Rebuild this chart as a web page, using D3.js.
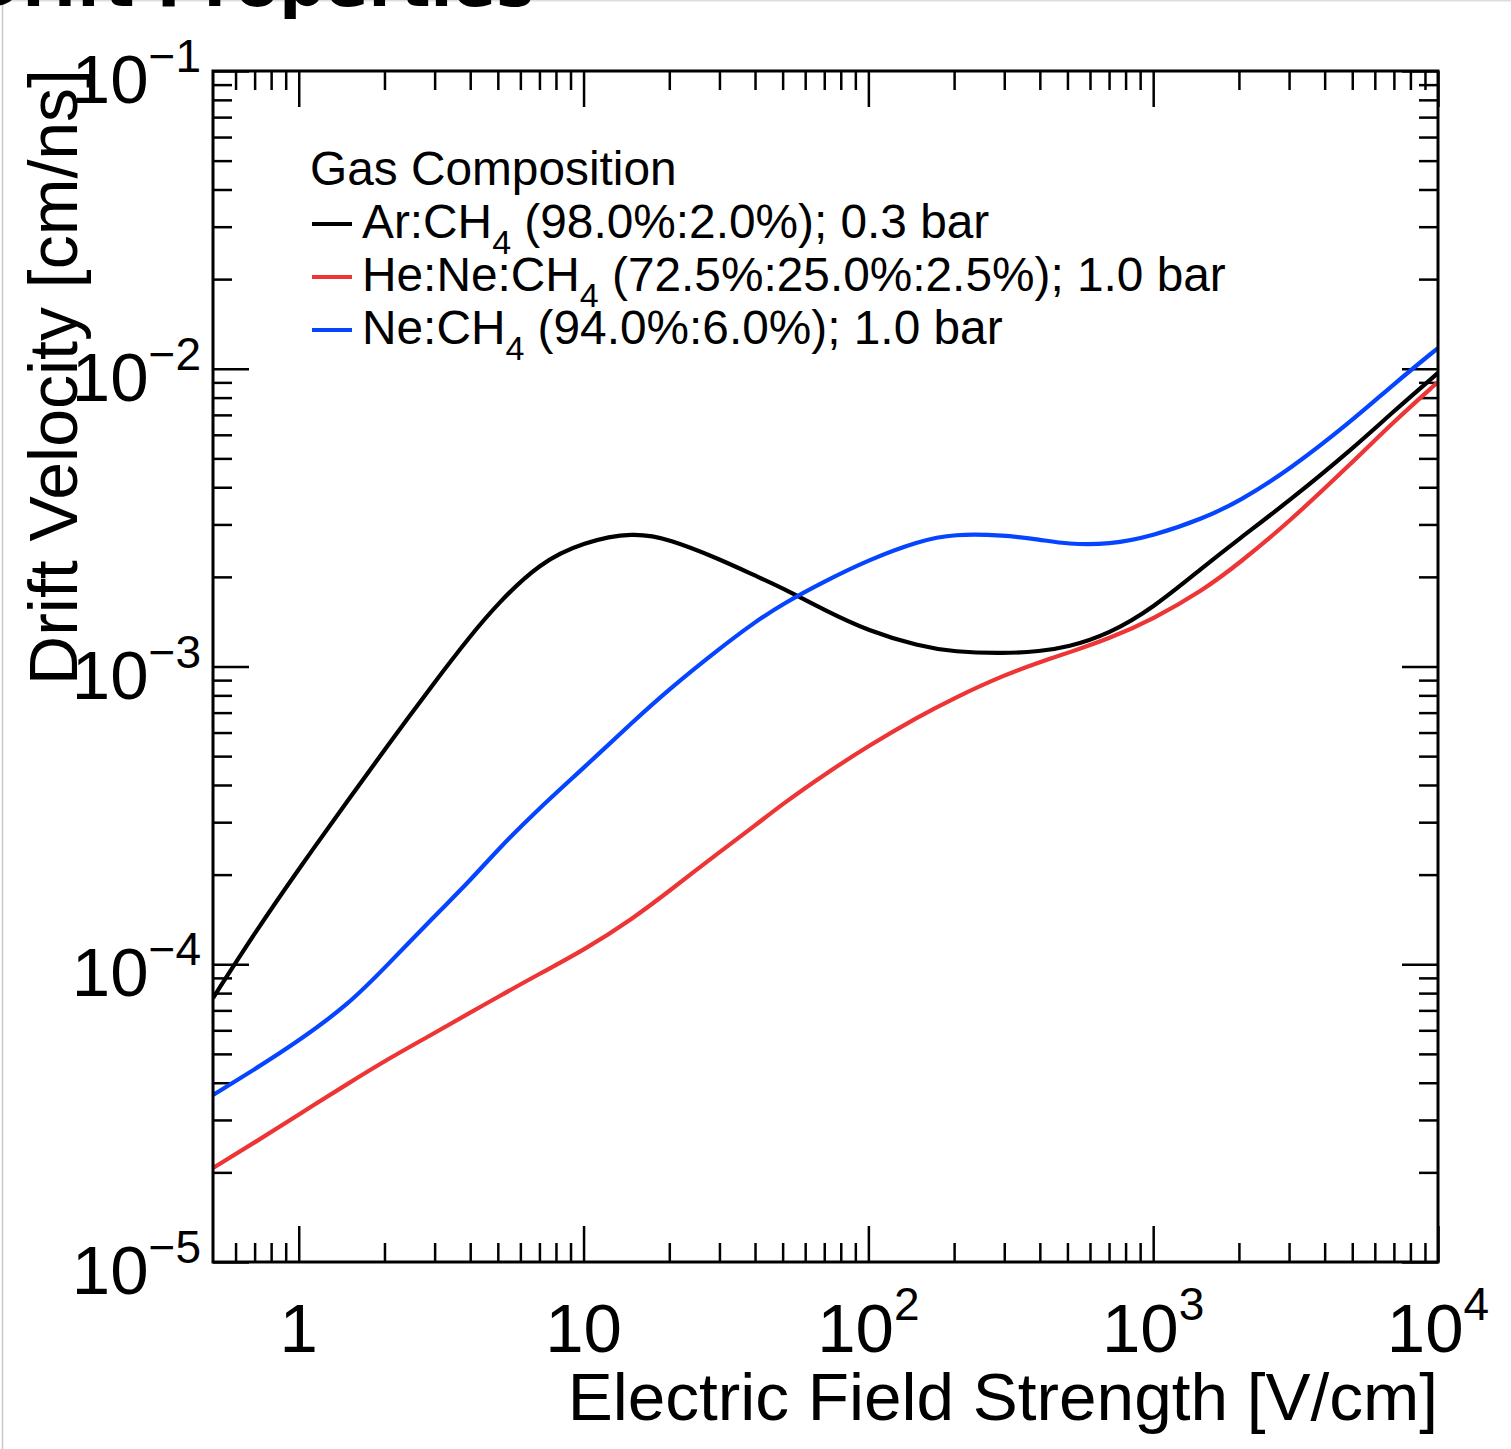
<!DOCTYPE html>
<html><head><meta charset="utf-8">
<script src="https://cdn.jsdelivr.net/npm/d3@7"></script>
<style>body{margin:0;background:#fff} svg{display:block}</style>
</head><body>
<svg id="c" width="1511" height="1449"></svg>
<script>
// ---- data ----
const fieldValues = [0.5, 0.7, 1, 1.5, 2, 3, 4, 5, 7, 10, 15, 20, 30, 40, 50, 70, 100, 150, 200, 300, 400, 500, 700, 1000, 1500, 2000, 3000, 5000, 7000, 10000];
const arCH4 = [7.70e-5, 1.273e-4, 2.089e-4, 3.589e-4, 5.243e-4, 8.87e-4, 1.266e-3, 1.628e-3, 2.227e-3, 2.62e-3, 2.825e-3, 2.68e-3, 2.296e-3, 2.020e-3, 1.835e-3, 1.548e-3, 1.316e-3, 1.172e-3, 1.119e-3, 1.105e-3, 1.125e-3, 1.160e-3, 1.286e-3, 1.572e-3, 2.159e-3, 2.68e-3, 3.596e-3, 5.376e-3, 7.21e-3, 9.68e-3];
const heNeCH4 = [2.068e-5, 2.519e-5, 3.128e-5, 3.99e-5, 4.733e-5, 5.877e-5, 6.88e-5, 7.76e-5, 9.29e-5, 1.113e-4, 1.43e-4, 1.762e-4, 2.382e-4, 2.921e-4, 3.457e-4, 4.337e-4, 5.41e-4, 6.786e-4, 7.836e-4, 9.366e-4, 1.035e-3, 1.110e-3, 1.240e-3, 1.443e-3, 1.806e-3, 2.218e-3, 3.058e-3, 4.844e-3, 6.65e-3, 9.03e-3];
const neCH4 = [3.638e-5, 4.435e-5, 5.525e-5, 7.354e-5, 9.71e-5, 1.453e-4, 1.91e-4, 2.43e-4, 3.347e-4, 4.56e-4, 6.56e-4, 8.40e-4, 1.149e-3, 1.411e-3, 1.622e-3, 1.930e-3, 2.279e-3, 2.639e-3, 2.79e-3, 2.76e-3, 2.670e-3, 2.575e-3, 2.565e-3, 2.744e-3, 3.142e-3, 3.582e-3, 4.570e-3, 6.70e-3, 8.89e-3, 1.174e-2];

const seriesGas = ["Ar:CH", "He:Ne:CH", "Ne:CH"];
const seriesMix = [" (98.0%:2.0%); 0.3 bar", " (72.5%:25.0%:2.5%); 1.0 bar", " (94.0%:6.0%); 1.0 bar"];
const seriesColors = ["#000000", "#ee3535", "#0645ff"];
const legendTitle = "Gas Composition";

const xMajorTicks = [1, 10, 100, 1000, 10000];
const xTickBase = ["1", "10", "10", "10", "10"];
const xTickExp = ["", "", "2", "3", "4"];
const yMajorTicks = [1e-5, 1e-4, 1e-3, 1e-2, 1e-1];
const yTickBase = ["10", "10", "10", "10", "10"];
const yTickExp = ["\u22125", "\u22124", "\u22123", "\u22122", "\u22121"];

const xTitle = "Electric Field Strength [V/cm]";
const yTitle = "Drift Velocity [cm/ns]";
const chartTitle = "Drift Properties";

// ---- layout ----
const W = 1511, H = 1449;
const L = 213, R = 1438, T = 71, B = 1262;
const FONT = "'Liberation Sans', Arial, Helvetica, sans-serif";
const MAJ = 36, MIN = 19;

const x = d3.scaleLog().domain([0.5, 1e4]).range([L, R]);
const y = d3.scaleLog().domain([1e-5, 1e-1]).range([B, T]);

const svg = d3.select("#c");
svg.append("rect").attr("width", W).attr("height", H).attr("fill", "#fff");

// page borders
svg.append("line").attr("x1", 2.5).attr("x2", 2.5).attr("y1", 0).attr("y2", H).attr("stroke", "#c8c8c8").attr("stroke-width", 1.5);
svg.append("line").attr("x1", 2.5).attr("x2", W).attr("y1", 0.75).attr("y2", 0.75).attr("stroke", "#dddddd").attr("stroke-width", 1.5);

// cut-off page title
svg.append("text").attr("x", 534).attr("y", 6).attr("text-anchor", "end")
  .attr("font-family", "'DejaVu Sans', sans-serif").attr("font-weight", "bold")
  .attr("font-size", 64).attr("fill", "#000").text(chartTitle);

// minor tick values
const xMinor = [];
for (let e = -1; e <= 3; e++) for (let k = 2; k <= 9; k++) {
  const v = k * Math.pow(10, e);
  if (v > 0.5 + 1e-9 && v < 1e4) xMinor.push(v);
}
const yMinor = [];
for (let e = -5; e <= -2; e++) for (let k = 2; k <= 9; k++) yMinor.push(k * Math.pow(10, e));

function drawAxis(axis, tx, ty, vals, size, w) {
  const g = svg.append("g").attr("transform", `translate(${tx},${ty})`)
    .call(axis.tickValues(vals).tickSizeInner(size).tickSizeOuter(0).tickFormat(""));
  g.select(".domain").remove();
  g.selectAll(".tick line").attr("stroke", "#000").attr("stroke-width", w);
  g.selectAll(".tick text").remove();
}
const TW = 2.5;
drawAxis(d3.axisBottom(x), 0, B, xMinor, -MIN, TW);
drawAxis(d3.axisBottom(x), 0, B, xMajorTicks, -MAJ, TW);
drawAxis(d3.axisTop(x), 0, T, xMinor, -MIN, TW);
drawAxis(d3.axisTop(x), 0, T, xMajorTicks, -MAJ, TW);
drawAxis(d3.axisLeft(y), L, 0, yMinor, -MIN, TW);
drawAxis(d3.axisLeft(y), L, 0, yMajorTicks, -MAJ, TW);
drawAxis(d3.axisRight(y), R, 0, yMinor, -MIN, TW);
drawAxis(d3.axisRight(y), R, 0, yMajorTicks, -MAJ, TW);

// curves
svg.append("clipPath").attr("id", "plotclip").append("rect")
  .attr("x", L).attr("y", T).attr("width", R - L).attr("height", B - T);
const line = d3.line().x(d => x(d[0])).y(d => y(d[1])).curve(d3.curveBasis);
const series = [arCH4, heNeCH4, neCH4];
const gCurves = svg.append("g").attr("clip-path", "url(#plotclip)");
series.forEach((vals, i) => {
  gCurves.append("path").datum(fieldValues.map((f, j) => [f, vals[j]]))
    .attr("d", line).attr("fill", "none").attr("stroke", seriesColors[i])
    .attr("stroke-width", 4.2).attr("stroke-linejoin", "round");
});

// frame
svg.append("rect").attr("x", L).attr("y", T).attr("width", R - L).attr("height", B - T)
  .attr("fill", "none").attr("stroke", "#000").attr("stroke-width", 3);

// x tick labels
svg.append("g").selectAll("text").data(xMajorTicks).join("text")
  .attr("x", d => x(d)).attr("y", B + 90).attr("text-anchor", "middle")
  .attr("font-family", FONT).attr("font-size", 69).attr("fill", "#000")
  .each(function (d, i) {
    const t = d3.select(this);
    t.append("tspan").text(xTickBase[i]);
    if (xTickExp[i]) t.append("tspan").attr("font-size", 46).attr("dy", -32).text(xTickExp[i]);
  });

// y tick labels
svg.append("g").selectAll("text").data(yMajorTicks).join("text")
  .attr("x", 201).attr("y", d => y(d) + 32).attr("text-anchor", "end")
  .attr("font-family", FONT).attr("font-size", 69).attr("fill", "#000")
  .each(function (d, i) {
    const t = d3.select(this);
    t.append("tspan").text(yTickBase[i]);
    t.append("tspan").attr("font-size", 46).attr("dy", -31).text(yTickExp[i]);
  });

// axis titles
svg.append("text").attr("x", R).attr("y", 1420).attr("text-anchor", "end")
  .attr("font-family", FONT).attr("font-size", 67.5).attr("fill", "#000").text(xTitle);
svg.append("text").attr("transform", `translate(77,69) rotate(-90)`).attr("text-anchor", "end")
  .attr("font-family", FONT).attr("font-size", 68).attr("fill", "#000").text(yTitle);

// legend
const LX = 310, LY = 185, LS = 53, FS = 47.8;
svg.append("text").attr("x", LX).attr("y", LY).attr("font-family", FONT)
  .attr("font-size", FS).attr("fill", "#000").text(legendTitle);
const lg = svg.append("g").selectAll("g").data(seriesGas).join("g")
  .attr("transform", (d, i) => `translate(0,${LY + LS * (i + 1)})`);
lg.append("line").attr("x1", 312).attr("x2", 352).attr("y1", -14).attr("y2", -14)
  .attr("stroke", (d, i) => seriesColors[i]).attr("stroke-width", 4);
lg.append("text").attr("x", 362).attr("y", 0).attr("font-family", FONT)
  .attr("font-size", FS).attr("fill", "#000")
  .each(function (d, i) {
    const t = d3.select(this);
    t.append("tspan").text(d);
    t.append("tspan").attr("font-size", 34).attr("dy", 16).text("4");
    t.append("tspan").attr("dy", -16).text(seriesMix[i]);
  });
</script>
</body></html>
